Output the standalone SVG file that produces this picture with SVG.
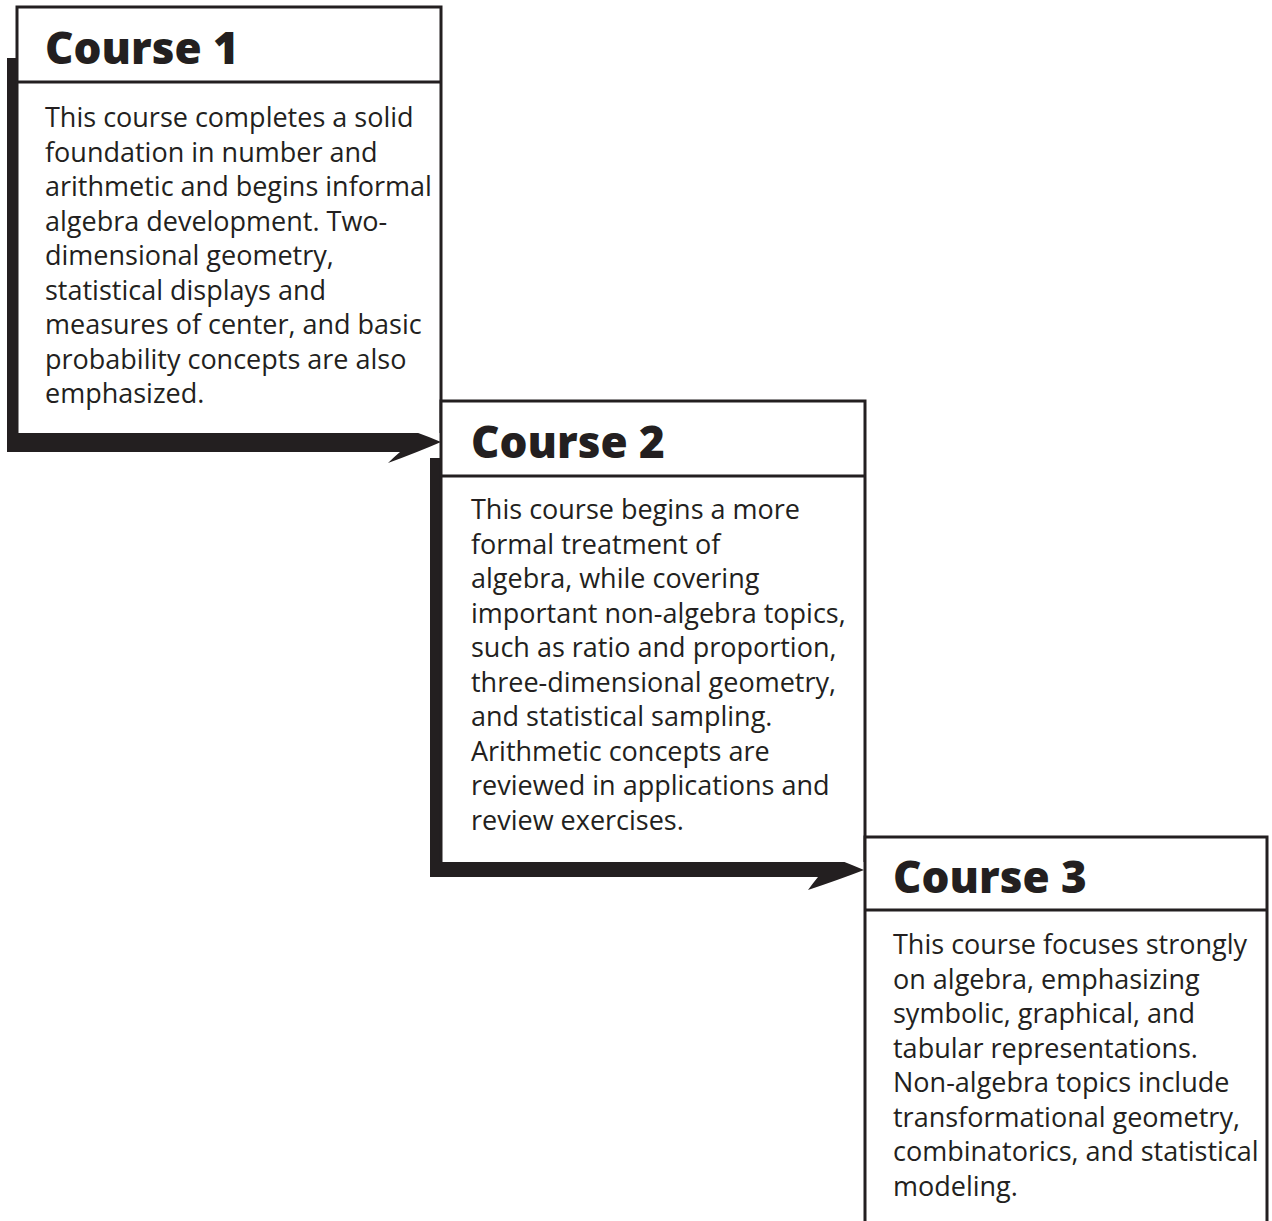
<svg xmlns="http://www.w3.org/2000/svg" width="1272" height="1221" viewBox="0 0 1272 1221">
<style>
.box{fill:#fff;stroke:#231f20;stroke-width:3}
.div{stroke:#231f20;stroke-width:3}
.bar{fill:#231f20}
.h{font-family:"Open Sans","Liberation Sans",sans-serif;font-weight:800;font-size:44px;fill:#231f20}
.t{font-family:"Open Sans","Liberation Sans",sans-serif;font-size:27px;fill:#231f20}
</style>
<rect width="1272" height="1221" fill="#fff"/>
<g id="connectors">
<path class="bar" d="M7,58 H17 V433 H400 Q394,428 388,423 Q418,432 441,442 Q418,452 388,463 Q394,457 400,452 H7 Z"/>
<path class="bar" d="M430,458 H441 V862 H818 Q813,855 808,848 Q838,859 864,870 Q838,880 808,890 Q813,883 818,877 H430 Z"/>
</g>
<g id="course1">
<path class="box" d="M441,433 V7 H17 V433"/>
<line class="div" x1="17" y1="82" x2="441" y2="82"/>
<text class="h" x="45" y="64">Course 1</text>
<text class="t" x="45"><tspan x="45" y="127">This course completes a solid</tspan><tspan x="45" y="161.5">foundation in number and</tspan><tspan x="45" y="196">arithmetic and begins informal</tspan><tspan x="45" y="230.5">algebra development. Two-</tspan><tspan x="45" y="265">dimensional geometry,</tspan><tspan x="45" y="299.5">statistical displays and</tspan><tspan x="45" y="334">measures of center, and basic</tspan><tspan x="45" y="368.5">probability concepts are also</tspan><tspan x="45" y="403">emphasized.</tspan></text>
</g>
<g id="course2">
<path class="box" d="M865,862 V401 H441 V862"/>
<line class="div" x1="441" y1="476" x2="865" y2="476"/>
<text class="h" x="471" y="458">Course 2</text>
<text class="t"><tspan x="471" y="519">This course begins a more</tspan><tspan x="471" y="553.5">formal treatment of</tspan><tspan x="471" y="588">algebra, while covering</tspan><tspan x="471" y="622.5">important non-algebra topics,</tspan><tspan x="471" y="657">such as ratio and proportion,</tspan><tspan x="471" y="691.5">three-dimensional geometry,</tspan><tspan x="471" y="726">and statistical sampling.</tspan><tspan x="471" y="760.5">Arithmetic concepts are</tspan><tspan x="471" y="795">reviewed in applications and</tspan><tspan x="471" y="829.5">review exercises.</tspan></text>
</g>
<g id="course3">
<path class="box" d="M1267,1225 V837 H865 V1225"/>
<line class="div" x1="865" y1="910" x2="1267" y2="910"/>
<text class="h" x="893" y="893">Course 3</text>
<text class="t"><tspan x="893" y="954">This course focuses strongly</tspan><tspan x="893" y="988.5">on algebra, emphasizing</tspan><tspan x="893" y="1023">symbolic, graphical, and</tspan><tspan x="893" y="1057.5">tabular representations.</tspan><tspan x="893" y="1092">Non-algebra topics include</tspan><tspan x="893" y="1126.5">transformational geometry,</tspan><tspan x="893" y="1161">combinatorics, and statistical</tspan><tspan x="893" y="1195.5">modeling.</tspan></text>
</g>
</svg>
